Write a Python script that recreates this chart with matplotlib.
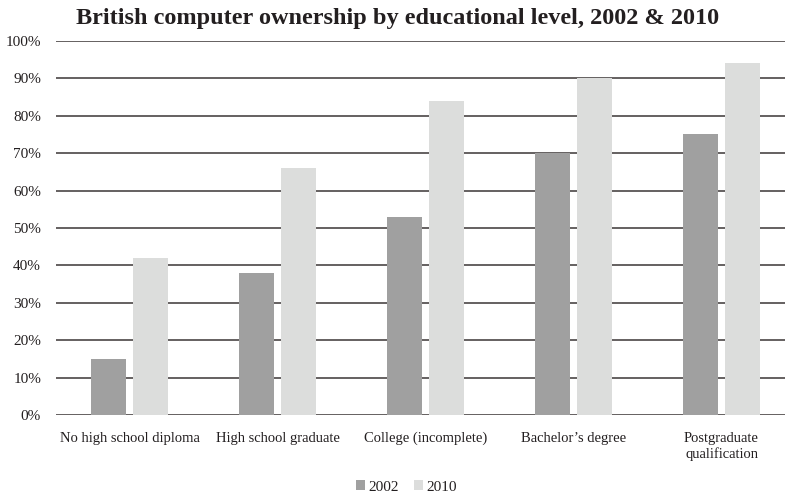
import matplotlib.pyplot as plt
import numpy as np

categories = ["No high school diploma", "High school graduate", "College (incomplete)",
              "Bachelor\u2019s degree", "Postgraduate\nqualification"]
own_2002 = [15, 38, 53, 70, 75]
own_2010 = [42, 66, 84, 90, 94]
yticks = [0, 10, 20, 30, 40, 50, 60, 70, 80, 90, 100]

plt.rcParams['font.family'] = ['Liberation Serif', 'DejaVu Serif']

fig = plt.figure(figsize=(7.85, 4.98), dpi=100)
# axes runs a bit past the right edge, like the cropped original
ax = fig.add_axes([55.5/785, 1-415/498, 740/785, 374/498])

x = np.arange(len(categories))
w = 0.236
off = 0.144
ax.bar(x - off, own_2002, w, color='#a0a0a0', label='2002', zorder=2)
ax.bar(x + off, own_2010, w, color='#dcdddc', label='2010', zorder=2)

ax.set_xlim(-0.5, len(categories) - 0.5)
ax.set_ylim(0, 100)
ax.set_yticks(yticks)
ax.set_yticklabels([f"{t}%" for t in yticks])
ax.yaxis.grid(True, color='#3a3636', linewidth=1.1, zorder=0)
ax.set_axisbelow(True)
for s in ax.spines.values():
    s.set_visible(False)
ax.tick_params(axis='y', length=0, pad=10.4, labelsize=11, colors='#231f20')
ax.tick_params(axis='x', length=0, pad=12, labelsize=10.5, colors='#231f20')
ax.set_xticks(x)
ax.set_xticklabels(categories, linespacing=1.25)

fig.text(0.507, 0.962, "British computer ownership by educational level, 2002 & 2010",
         ha='center', va='center', fontsize=17.5, fontweight='bold', color='#231f20')

fig.legend(loc='center', bbox_to_anchor=(0.518, 0.022), ncol=2, frameon=False,
           fontsize=11, handlelength=0.6, handleheight=0.6, handletextpad=0.2,
           columnspacing=1.0, labelcolor='#231f20')

fig.savefig("out.png", dpi=100)
